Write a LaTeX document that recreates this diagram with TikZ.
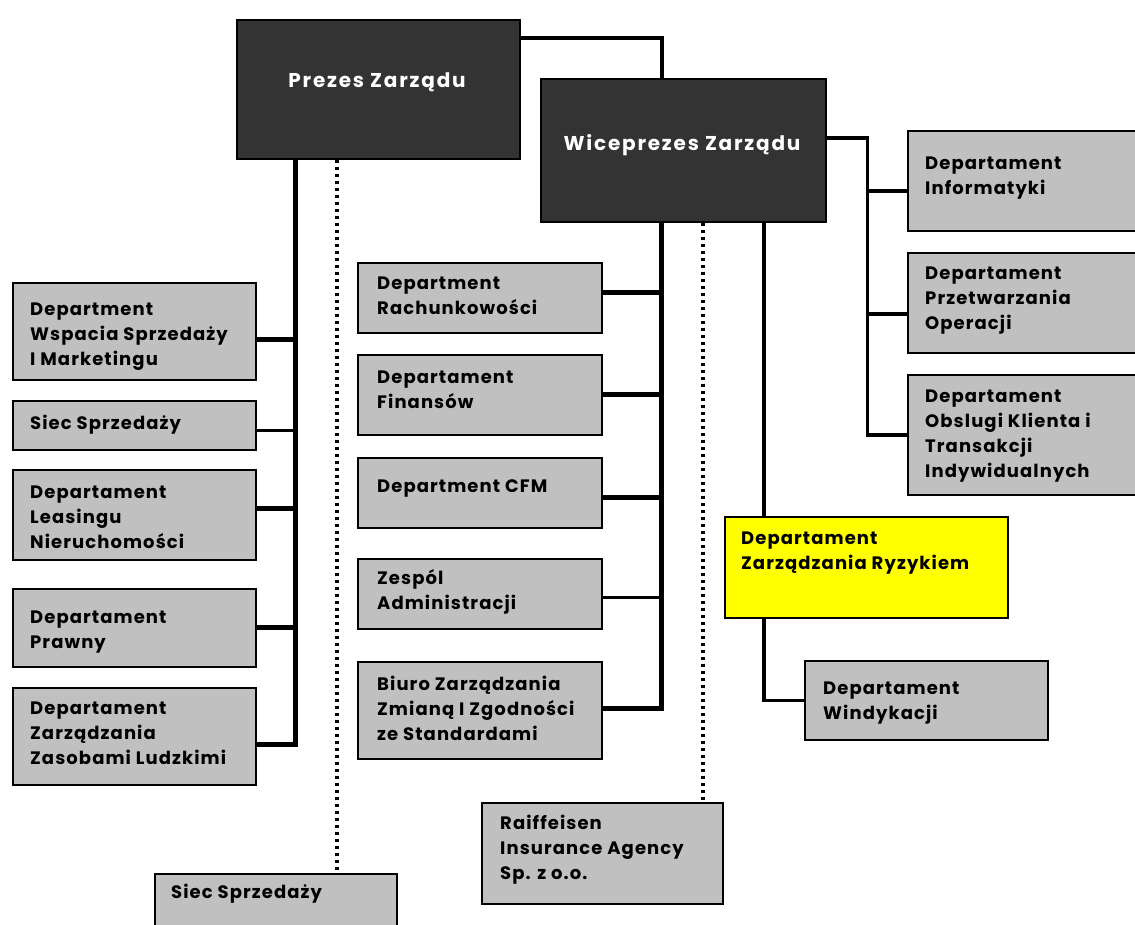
\documentclass[tikz,border=0pt]{standalone}
\usepackage{fontspec}
\setmainfont{Poppins}
\newfontfamily\chartfont{Poppins}[LetterSpace=6]
\newfontfamily\titlefont{Poppins}[LetterSpace=9]
\usetikzlibrary{calc}
\definecolor{boxgray}{HTML}{C0C0C0}
\definecolor{darkbox}{HTML}{333333}
\definecolor{riskyellow}{HTML}{FFFF00}
\tikzset{
  box/.style={draw=black, line width=1.6pt, fill=boxgray, anchor=north west, inner sep=0pt},
  darkbx/.style={box, fill=darkbox},
  yelbx/.style={box, fill=riskyellow},
  txt/.style={anchor=west, align=left, inner sep=0pt, font=\chartfont\bfseries\fontsize{18}{25}\selectfont},
  wtxt/.style={anchor=center, inner sep=0pt, text=white, font=\titlefont\bfseries\fontsize{20}{25}\selectfont},
  fatline/.style={line width=5pt},
  midline/.style={line width=3.6pt},
  thinline/.style={line width=3pt},
  dotline/.style={line width=4pt, dash pattern=on 3.5pt off 3.5pt},
}
\begin{document}
\begin{tikzpicture}[x=1pt,y=-1pt]
\useasboundingbox (0,0) rectangle (1135,925);
\clip (0,0) rectangle (1135,925);
\fill[white] (0,0) rectangle (1135,925);

% boxes
\node[darkbx, minimum width=283pt, minimum height=139pt] (p) at (236,19) {};
\node[darkbx, minimum width=285pt, minimum height=143pt] (w) at (540,78) {};

\node[box, minimum width=243pt, minimum height=97pt] (L1) at (12,282) {};
\node[box, minimum width=243pt, minimum height=49pt] (L2) at (12,400) {};
\node[box, minimum width=243pt, minimum height=90pt] (L3) at (12,469) {};
\node[box, minimum width=243pt, minimum height=78pt] (L4) at (12,588) {};
\node[box, minimum width=243pt, minimum height=97pt] (L5) at (12,687) {};

\node[box, minimum width=244pt, minimum height=70pt] (M1) at (357,262) {};
\node[box, minimum width=244pt, minimum height=80pt] (M2) at (357,354) {};
\node[box, minimum width=244pt, minimum height=70pt] (M3) at (357,457) {};
\node[box, minimum width=244pt, minimum height=70pt] (M4) at (357,558) {};
\node[box, minimum width=244pt, minimum height=97pt] (M5) at (357,661) {};

\node[box, minimum width=260pt, minimum height=100pt] (R1) at (907,130) {};
\node[box, minimum width=260pt, minimum height=100pt] (R2) at (907,252) {};
\node[box, minimum width=260pt, minimum height=120pt] (R3) at (907,374) {};

\node[yelbx, minimum width=283pt, minimum height=101pt] (Y) at (724,516) {};
\node[box, minimum width=243pt, minimum height=79pt] (Wi) at (804,660) {};
\node[box, minimum width=241pt, minimum height=101pt] (Ra) at (481,802) {};
\node[box, minimum width=242pt, minimum height=90pt] (S) at (154,873) {};

% texts
\node[wtxt] (pt) at (377,82) {Prezes Zarządu};
\node[wtxt] (wt) at (682,145) {Wiceprezes Zarządu};

\node[txt] (L1t) at (30,337) {Department\\Wspacia Sprzedaży\\I Marketingu};
\node[txt] (L2t) at (30,425) {Siec Sprzedaży};
\node[txt] (L3t) at (30,517) {Departament\\Leasingu\\Nieruchomości};
\node[txt] (L4t) at (30,632) {Departament\\Prawny};
\node[txt] (L5t) at (30,733) {Departament\\Zarządzania\\Zasobami Ludzkimi};

\node[txt] (M1t) at (377,296) {Department\\Rachunkowości};
\node[txt] (M2t) at (377,390) {Departament\\Finansów};
\node[txt] (M3t) at (377,489) {Department CFM};
\node[txt] (M4t) at (377,592) {Zespól\\Administracji};
\node[txt] (M5t) at (377,708) {Biuro Zarządzania\\Zmianą I Zgodności\\ze Standardami};

\node[txt] (R1t) at (925,178) {Departament\\Informatyki};
\node[txt] (R2t) at (925,301) {Departament\\Przetwarzania\\Operacji};
\node[txt] (R3t) at (925,436) {Departament\\Obslugi Klienta i\\Transakcji\\Indywidualnych};

\node[txt] (Yt) at (741,553) {Departament\\Zarządzania Ryzykiem};
\node[txt] (Wit) at (823,703) {Departament\\Windykacji};
\node[txt] (Rat) at (500,850) {Raiffeisen\\Insurance Agency\\Sp. z o.o.};
\node[txt] (St) at (171,894) {Siec Sprzedaży};

% connector coordinates
\coordinate (pbus) at ($(p.south west)+(59,0)$);
\coordinate (pdot) at ($(p.south west)+(101,0)$);
\coordinate (wbus) at ($(w.south west)+(121,0)$);
\coordinate (wdot) at ($(w.south west)+(163,0)$);
\coordinate (wy) at ($(w.south west)+(224,0)$);
\coordinate (wtop) at ($(w.north west)+(122,0)$);
\coordinate (pright) at ($(p.north east)+(0,19)$);
\coordinate (wright) at ($(w.north east)+(0,60)$);
\coordinate (rbus) at ($(wright)+(41,0)$);

% Prezes -> Wiceprezes
\draw[midline] (pright) -| (wtop);

% left bus
\coordinate (b1) at ($(L1.east)+(0,8)$);
\coordinate (b2) at ($(L2.east)+(0,5)$);
\coordinate (b3) at ($(L3.east)+(0,-6)$);
\coordinate (b4) at (L4.east);
\coordinate (b5) at ($(L5.east)+(0,8)$);
\draw[fatline] (pbus) -- (pbus |- b5);
\draw[fatline] (b1) -- (b1 -| pbus);
\draw[thinline] (b2) -- (b2 -| pbus);
\draw[fatline] (b3) -- (b3 -| pbus);
\draw[fatline] (b4) -- (b4 -| pbus);
\draw[fatline] (b5) -- ($(b5 -| pbus)+(2.5,0)$);

% middle bus
\coordinate (m1) at ($(M1.east)+(0,-5)$);
\coordinate (m2) at (M2.east);
\coordinate (m3) at ($(M3.east)+(0,5)$);
\coordinate (m4) at ($(M4.east)+(0,4)$);
\coordinate (m5) at ($(M5.east)+(0,-2)$);
\draw[fatline] (wbus) -- (wbus |- m5);
\draw[fatline] (m1) -- (m1 -| wbus);
\draw[fatline] (m2) -- (m2 -| wbus);
\draw[fatline] (m3) -- (m3 -| wbus);
\draw[thinline] (m4) -- (m4 -| wbus);
\draw[fatline] (m5) -- ($(m5 -| wbus)+(2.5,0)$);

% right bus
\coordinate (r1) at ($(R1.west)+(0,10)$);
\coordinate (r2) at ($(R2.west)+(0,11)$);
\coordinate (r3) at (R3.west);
\draw[midline] (wright) -| (rbus |- r3) -- (r3);
\draw[midline] (r1) -- (r1 -| rbus);
\draw[midline] (r2) -- (r2 -| rbus);

% risk branch
\draw[midline] (wy) -- (wy |- Y.north);
\draw[midline] (wy |- Y.south) |- (Wi.west);

% dotted
\draw[dotline] (pdot) -- (pdot |- S.north);
\draw[dotline] (wdot) -- (wdot |- Ra.north);
\end{tikzpicture}
\end{document}
